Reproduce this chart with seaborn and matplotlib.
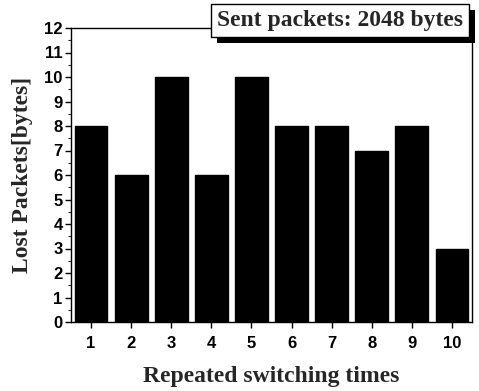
import pandas as pd
import seaborn as sns
import matplotlib.pyplot as plt
from matplotlib.ticker import MultipleLocator
import matplotlib.patheffects as pe

switch_times = ['1', '2', '3', '4', '5', '6', '7', '8', '9', '10']
lost_packets = [8, 6, 10, 6, 10, 8, 8, 7, 8, 3]

df = pd.DataFrame({'times': switch_times, 'lost': lost_packets})

sns.set_style('ticks')
plt.rcParams['font.family'] = ['Liberation Sans', 'DejaVu Sans']
plt.rcParams['font.weight'] = 'bold'

fig = plt.figure(figsize=(4.79, 3.91), dpi=100)
ax = fig.add_axes([71 / 479, 1 - 322 / 391, 401 / 479, 294 / 391])

sns.barplot(data=df, x='times', y='lost', color='black', width=0.82,
            saturation=1, edgecolor='black', ax=ax)

ax.set_xlim(-0.5, 9.5)
ax.set_ylim(0, 12)
ax.yaxis.set_major_locator(MultipleLocator(1))
ax.yaxis.set_minor_locator(MultipleLocator(0.5))

for side in ['left', 'bottom', 'right', 'top']:
    ax.spines[side].set_linewidth(1.0)
    ax.spines[side].set_color('black')

ax.tick_params(axis='both', which='major', direction='out', length=4, width=1,
               labelsize=12, pad=2, colors='black')
ax.tick_params(axis='y', which='minor', direction='out', length=2, width=0.8)
ax.tick_params(axis='x', pad=6)
for lbl in ax.get_xticklabels() + ax.get_yticklabels():
    lbl.set_fontweight('bold')

serif = ['Liberation Serif', 'DejaVu Serif']
ax.set_xlabel('Repeated switching times', fontsize=17, fontweight='bold',
              family=serif, labelpad=11)
ax.set_ylabel('Lost Packets[bytes]', fontsize=17, fontweight='bold',
              family=serif, labelpad=8)

t = ax.text(0.978, 1.025, 'Sent packets: 2048 bytes', transform=ax.transAxes,
            ha='right', va='center', fontsize=17, fontweight='bold', family=serif,
            bbox=dict(boxstyle='square,pad=0.25', facecolor='white',
                      edgecolor='black', linewidth=1))
t.get_bbox_patch().set_path_effects([
    pe.withSimplePatchShadow(offset=(4, -4), shadow_rgbFace='black', alpha=1)])

fig.savefig('out.png', dpi=100)
